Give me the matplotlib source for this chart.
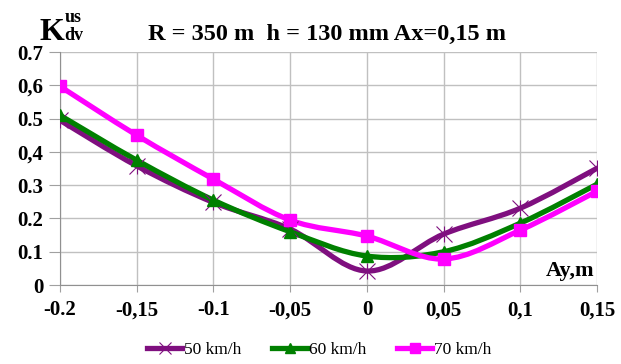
import matplotlib
matplotlib.use("Agg")
import matplotlib.pyplot as plt
from matplotlib.path import Path
from matplotlib.patches import PathPatch
from matplotlib.lines import Line2D

plt.rcParams['font.family'] = ['Liberation Serif', 'DejaVu Serif']

ay = [-0.2, -0.15, -0.1, -0.05, 0.0, 0.05, 0.1, 0.15]
k50 = [0.495, 0.358, 0.248, 0.168, 0.042, 0.153, 0.231, 0.351]
k60 = [0.51, 0.375, 0.255, 0.16, 0.087, 0.10, 0.186, 0.303]
k70 = [0.597, 0.45, 0.318, 0.195, 0.147, 0.078, 0.165, 0.282]

xtick_labels = ["-0.2", "-0,15", "-0.1", "-0,05", "0", "0,05", "0,1", "0,15"]
ytick_vals = [0, 0.1, 0.2, 0.3, 0.4, 0.5, 0.6, 0.7]
ytick_labels = ["0", "0.1", "0.2", "0.3", "0,4", "0.5", "0,6", "0.7"]

series = [
    ("50 km/h", k50, "#7f0f7f"),
    ("60 km/h", k60, "#008000"),
    ("70 km/h", k70, "#ff00ff"),
]


def smooth_path(x, y):
    # catmull-rom style bezier, like excel's smoothed line
    verts = [(x[0], y[0])]
    codes = [Path.MOVETO]
    n = len(x)
    for i in range(n - 1):
        x0, y0 = (x[i - 1], y[i - 1]) if i > 0 else (x[i], y[i])
        x3, y3 = (x[i + 2], y[i + 2]) if i + 2 < n else (x[i + 1], y[i + 1])
        c1 = (x[i] + (x[i + 1] - x0) / 6, y[i] + (y[i + 1] - y0) / 6)
        c2 = (x[i + 1] - (x3 - x[i]) / 6, y[i + 1] - (y3 - y[i]) / 6)
        verts += [c1, c2, (x[i + 1], y[i + 1])]
        codes += [Path.CURVE4] * 3
    return Path(verts, codes)


fig = plt.figure(figsize=(6.21, 3.64), dpi=100)
ax = fig.add_axes([0.0966, 0.217, 0.865, 0.64])

for label, vals, col in series:
    ax.add_patch(PathPatch(smooth_path(ay, vals), facecolor="none",
                           edgecolor=col, lw=3.8, capstyle="round", zorder=3))

# markers
ax.plot(ay, k50, ls="none", marker="x", ms=11, mew=0.8, color="#7f0f7f", zorder=4)
ax.plot(ay, k50, ls="none", marker="|", ms=11, mew=0.8, color="#7f0f7f", zorder=4)
ax.plot(ay, k60, ls="none", marker="^", ms=8, color="#008000", zorder=4)
ax.plot(ay, k70, ls="none", marker="s", ms=8, color="#ff00ff", zorder=4)

ax.set_xlim(-0.2, 0.15)
ax.set_ylim(0, 0.7)
ax.set_xticks(ay)
ax.set_xticklabels(xtick_labels, fontsize=15, fontweight="bold")
ax.set_yticks(ytick_vals)
ax.set_yticklabels(ytick_labels, fontsize=15, fontweight="bold")
ax.tick_params(axis="y", length=8, color="#a0a0a0", pad=4)
ax.tick_params(axis="x", length=5, color="#a0a0a0", pad=6)
ax.grid(True, color="#c0c0c0", lw=1)
ax.set_axisbelow(True)
for s in ["top", "right"]:
    ax.spines[s].set_visible(False)
for s in ["left", "bottom"]:
    ax.spines[s].set_color("#909090")

ax.text(0.148, 0.012, "Ay,m", fontsize=16, fontweight="bold", ha="right",
        va="bottom", bbox=dict(fc="white", ec="none", pad=1), zorder=5)

fig.text(0.064, 0.89, "K", fontsize=23, fontweight="bold", ha="left", va="baseline")
fig.text(0.104, 0.94, "us", fontsize=13, fontweight="bold", ha="left", va="baseline")
fig.text(0.104, 0.89, "dv", fontsize=13, fontweight="bold", ha="left", va="baseline")
fig.text(0.238, 0.89, "R = 350 m  h = 130 mm Ax=0,15 m", fontsize=17.5,
         fontweight="bold", ha="left", va="baseline")

handles = [
    Line2D([], [], color="#7f0f7f", lw=3.8, marker="x", ms=8, mew=0.8),
    Line2D([], [], color="#008000", lw=3.8, marker="^", ms=7),
    Line2D([], [], color="#ff00ff", lw=3.8, marker="s", ms=7),
]
fig.legend(handles, [s[0] for s in series], loc="center", bbox_to_anchor=(0.514, 0.038),
           ncol=3, frameon=False, fontsize=12.5, handlelength=2.0, handletextpad=0.1,
           columnspacing=1.8)

fig.savefig("out.png", dpi=100)
